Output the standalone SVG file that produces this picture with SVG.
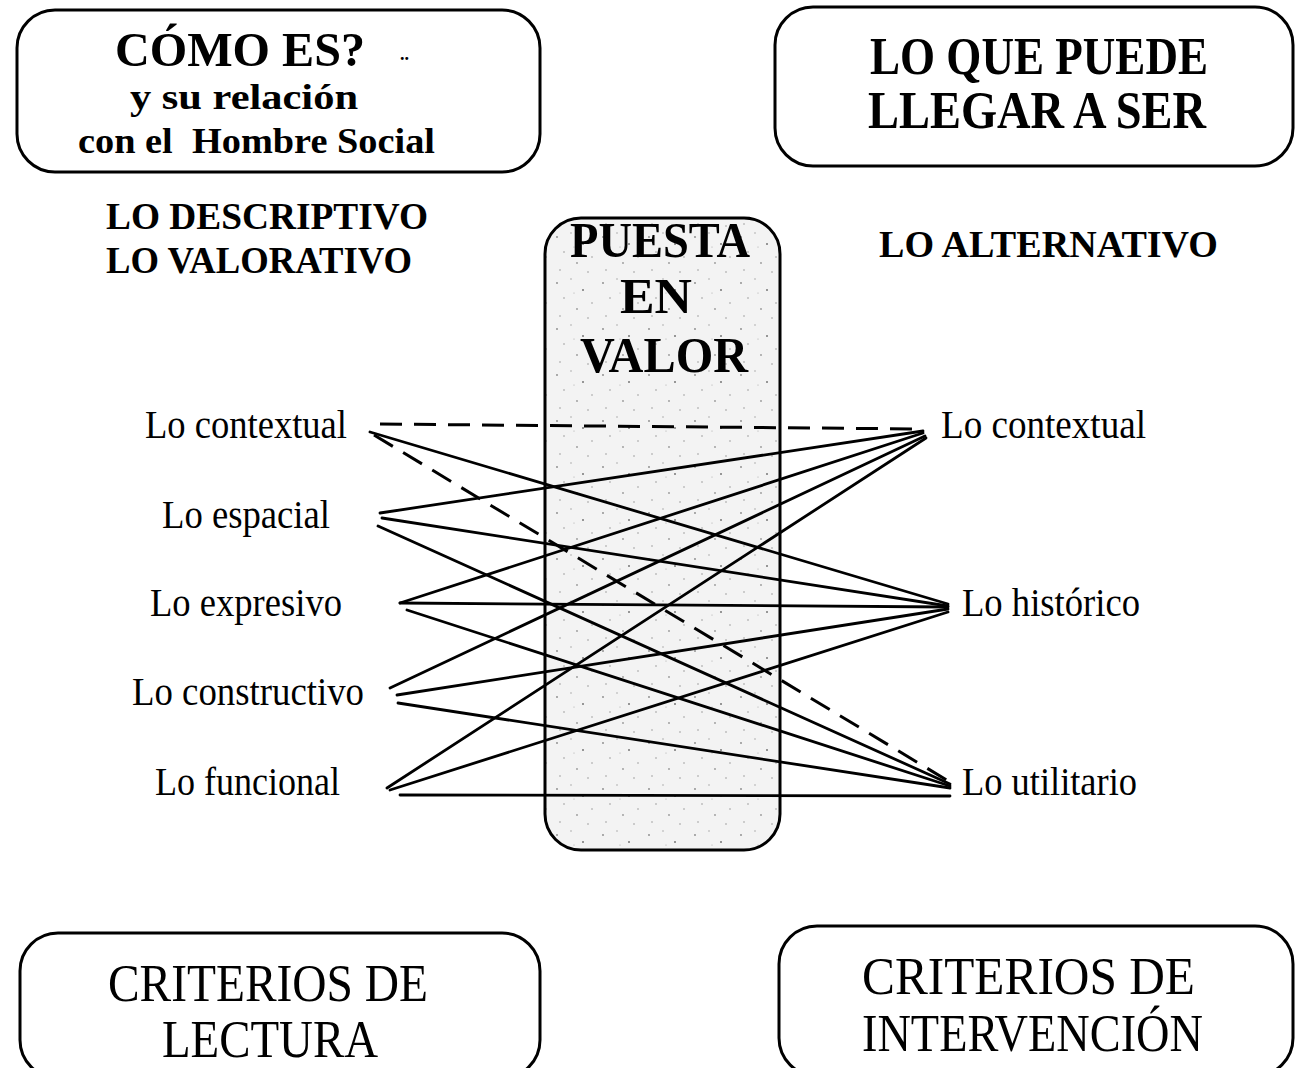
<svg xmlns="http://www.w3.org/2000/svg" width="1295" height="1068" viewBox="0 0 1295 1068">
<style>
.box{fill:#fff;stroke:#000;stroke-width:3}
.t{font-family:"Liberation Serif","Times New Roman",serif;fill:#000}
.b{font-weight:bold}
.ln{stroke:#000;stroke-width:2.8;fill:none;stroke-linecap:round}
.dash{stroke-dasharray:22 12;stroke-linecap:butt;stroke-width:3}
</style>
<defs>
<pattern id="speck" width="46" height="46" patternUnits="userSpaceOnUse">
<rect width="46" height="46" fill="#f3f3f3"/>
<circle cx="5" cy="7" r="0.9" fill="#888"/>
<circle cx="19" cy="3" r="0.7" fill="#999"/>
<circle cx="31" cy="14" r="1" fill="#777"/>
<circle cx="12" cy="22" r="0.8" fill="#999"/>
<circle cx="40" cy="27" r="0.7" fill="#888"/>
<circle cx="25" cy="33" r="0.9" fill="#999"/>
<circle cx="8" cy="40" r="0.7" fill="#888"/>
<circle cx="36" cy="42" r="0.8" fill="#999"/>
<circle cx="22" cy="17" r="0.6" fill="#aaa"/>
</pattern>
</defs>

<g id="center-box">
<rect x="545" y="218" width="235" height="632" rx="36" fill="url(#speck)" stroke="#000" stroke-width="3"/>
<text class="t b" x="660" y="257" font-size="50" text-anchor="middle" textLength="180" lengthAdjust="spacingAndGlyphs">PUESTA</text>
<text class="t b" x="656" y="313" font-size="50" text-anchor="middle" textLength="72" lengthAdjust="spacingAndGlyphs">EN</text>
<text class="t b" x="664" y="372" font-size="50" text-anchor="middle" textLength="168" lengthAdjust="spacingAndGlyphs">VALOR</text>
</g>

<g id="connectors">
<line class="ln dash" x1="380" y1="424" x2="923" y2="429"/>
<line class="ln" x1="370" y1="432" x2="948" y2="604"/>
<line class="ln dash" x1="374" y1="435" x2="950" y2="782"/>
<line class="ln" x1="380" y1="513" x2="923" y2="431"/>
<line class="ln" x1="382" y1="518" x2="948" y2="606"/>
<line class="ln" x1="378" y1="526" x2="950" y2="784"/>
<line class="ln" x1="400" y1="603" x2="923" y2="433"/>
<line class="ln" x1="400" y1="603" x2="948" y2="607"/>
<line class="ln" x1="407" y1="610" x2="950" y2="786"/>
<line class="ln" x1="390" y1="688" x2="925" y2="436"/>
<line class="ln" x1="397" y1="695" x2="948" y2="609"/>
<line class="ln" x1="398" y1="703" x2="950" y2="788"/>
<line class="ln" x1="387" y1="788" x2="926" y2="438"/>
<line class="ln" x1="390" y1="790" x2="948" y2="612"/>
<line class="ln" x1="400" y1="795" x2="950" y2="796"/>
</g>

<g id="box-como-es">
<rect class="box" x="17" y="10" width="523" height="162" rx="38"/>
<text class="t b" x="115" y="66" font-size="48" textLength="250" lengthAdjust="spacingAndGlyphs">CÓMO ES?</text>
<text class="t b" x="400" y="60" font-size="18">..</text>
<text class="t b" x="130" y="109" font-size="36" textLength="228" lengthAdjust="spacingAndGlyphs">y su relación</text>
<text class="t b" x="78" y="153" font-size="36" textLength="357" lengthAdjust="spacingAndGlyphs" xml:space="preserve">con el  Hombre Social</text>
</g>

<g id="box-lo-que-puede">
<rect class="box" x="775" y="7" width="518" height="159" rx="38"/>
<text class="t b" x="870" y="74" font-size="52" textLength="338" lengthAdjust="spacingAndGlyphs">LO QUE PUEDE</text>
<text class="t b" x="868" y="128" font-size="52" textLength="338" lengthAdjust="spacingAndGlyphs">LLEGAR A SER</text>
</g>

<g id="label-descriptivo">
<text class="t b" x="106" y="229" font-size="38" textLength="322" lengthAdjust="spacingAndGlyphs">LO DESCRIPTIVO</text>
<text class="t b" x="106" y="273" font-size="38" textLength="306" lengthAdjust="spacingAndGlyphs">LO VALORATIVO</text>
</g>

<g id="label-alternativo">
<text class="t b" x="879" y="257" font-size="38" textLength="339" lengthAdjust="spacingAndGlyphs">LO ALTERNATIVO</text>
</g>

<g id="left-contextual"><text class="t" x="145" y="438" font-size="39" textLength="202" lengthAdjust="spacingAndGlyphs">Lo contextual</text></g>
<g id="left-espacial"><text class="t" x="162" y="528" font-size="39" textLength="168" lengthAdjust="spacingAndGlyphs">Lo espacial</text></g>
<g id="left-expresivo"><text class="t" x="150" y="616" font-size="39" textLength="192" lengthAdjust="spacingAndGlyphs">Lo expresivo</text></g>
<g id="left-constructivo"><text class="t" x="132" y="705" font-size="39" textLength="232" lengthAdjust="spacingAndGlyphs">Lo constructivo</text></g>
<g id="left-funcional"><text class="t" x="155" y="795" font-size="39" textLength="185" lengthAdjust="spacingAndGlyphs">Lo funcional</text></g>

<g id="right-contextual"><text class="t" x="941" y="438" font-size="39" textLength="205" lengthAdjust="spacingAndGlyphs">Lo contextual</text></g>
<g id="right-historico"><text class="t" x="962" y="616" font-size="39" textLength="178" lengthAdjust="spacingAndGlyphs">Lo histórico</text></g>
<g id="right-utilitario"><text class="t" x="962" y="795" font-size="39" textLength="175" lengthAdjust="spacingAndGlyphs">Lo utilitario</text></g>

<g id="box-criterios-lectura">
<rect class="box" x="20" y="933" width="520" height="145" rx="38"/>
<text class="t" x="108" y="1001" font-size="52" textLength="320" lengthAdjust="spacingAndGlyphs">CRITERIOS DE</text>
<text class="t" x="162" y="1057" font-size="52" textLength="216" lengthAdjust="spacingAndGlyphs">LECTURA</text>
</g>

<g id="box-criterios-intervencion">
<rect class="box" x="779" y="926" width="514" height="150" rx="38"/>
<text class="t" x="862" y="994" font-size="52" textLength="333" lengthAdjust="spacingAndGlyphs">CRITERIOS DE</text>
<text class="t" x="862" y="1051" font-size="52" textLength="341" lengthAdjust="spacingAndGlyphs">INTERVENCIÓN</text>
</g>
</svg>
